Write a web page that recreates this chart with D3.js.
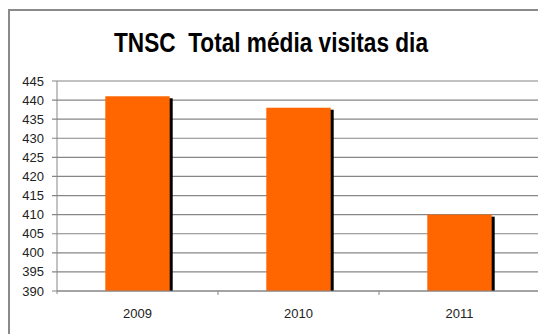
<!DOCTYPE html>
<html>
<head>
<meta charset="utf-8">
<script src="https://cdn.jsdelivr.net/npm/d3@7"></script>
<style>
  body { margin: 0; background: #fff; }
  svg { display: block; }
  .tick-label { font-family: "Liberation Sans", Arial, sans-serif; font-size: 13px; fill: #222; }
  .title { white-space: pre; }
</style>
</head>
<body>
<div id="chart"></div>
<script>
// data
const years = ["2009", "2010", "2011"];
const visits = [441, 438, 410];
const yTicks = [390, 395, 400, 405, 410, 415, 420, 425, 430, 435, 440, 445];
const title = "TNSC  Total média visitas dia";

const width = 538, height = 334;
const plot = { left: 57, top: 81, right: 540, bottom: 291 };

const svg = d3.select("#chart").append("svg")
  .attr("width", width)
  .attr("height", height);

// outer chart border (right/bottom fall outside the window)
svg.append("rect")
  .attr("x", 9).attr("y", 10)
  .attr("width", 560).attr("height", 360)
  .attr("fill", "#fff")
  .attr("stroke", "#8a8a8a")
  .attr("stroke-width", 2);

// title
svg.append("text")
  .attr("class", "title")
  .attr("x", 271).attr("y", 52)
  .attr("text-anchor", "middle")
  .attr("font-family", "'Liberation Sans Narrow', 'Arial Narrow', 'Liberation Sans', sans-serif")
  .attr("font-weight", "bold")
  .attr("font-size", 27)
  .attr("textLength", 314)
  .attr("lengthAdjust", "spacingAndGlyphs")
  .attr("fill", "#000")
  .text(title);

// scales
const x = d3.scaleBand().domain(years).range([plot.left, plot.right]).padding(0);
const y = d3.scaleLinear().domain([390, 445]).range([plot.bottom, plot.top]);

// gridlines
svg.append("g")
  .selectAll("line")
  .data(yTicks)
  .join("line")
  .attr("x1", plot.left - 5).attr("x2", width)
  .attr("y1", d => y(d)).attr("y2", d => y(d))
  .attr("stroke", "#868686")
  .attr("stroke-width", 1.2);

// y labels
svg.append("g")
  .selectAll("text")
  .data(yTicks)
  .join("text")
  .attr("class", "tick-label")
  .attr("x", plot.left - 13)
  .attr("y", d => y(d))
  .attr("dy", "0.35em")
  .attr("text-anchor", "end")
  .text(d => d);

// y axis line
svg.append("line")
  .attr("x1", plot.left).attr("x2", plot.left)
  .attr("y1", plot.top).attr("y2", plot.bottom + 3)
  .attr("stroke", "#868686");

// x category ticks between bands
svg.append("g")
  .selectAll("line")
  .data(years.slice(1))
  .join("line")
  .attr("x1", d => x(d)).attr("x2", d => x(d))
  .attr("y1", plot.bottom).attr("y2", plot.bottom + 4)
  .attr("stroke", "#868686");

const barW = x.bandwidth() * 0.4;
const bars = years.map((k, i) => ({ year: k, value: visits[i] }));

// bar shadows
svg.append("g")
  .selectAll("rect")
  .data(bars)
  .join("rect")
  .attr("x", d => x(d.year) + x.bandwidth() / 2 - barW / 2 + 3)
  .attr("y", d => y(d.value) + 2)
  .attr("width", barW)
  .attr("height", d => plot.bottom - y(d.value) - 2)
  .attr("fill", "#000");

// bars
svg.append("g")
  .selectAll("rect")
  .data(bars)
  .join("rect")
  .attr("x", d => x(d.year) + x.bandwidth() / 2 - barW / 2)
  .attr("y", d => y(d.value))
  .attr("width", barW)
  .attr("height", d => plot.bottom - y(d.value))
  .attr("fill", "#ff6600");

// x axis baseline
svg.append("line")
  .attr("x1", plot.left).attr("x2", width)
  .attr("y1", plot.bottom).attr("y2", plot.bottom)
  .attr("stroke", "#868686");

// x labels
svg.append("g")
  .selectAll("text")
  .data(years)
  .join("text")
  .attr("class", "tick-label")
  .attr("x", d => x(d) + x.bandwidth() / 2)
  .attr("y", 318)
  .attr("text-anchor", "middle")
  .text(d => d);
</script>
</body>
</html>
